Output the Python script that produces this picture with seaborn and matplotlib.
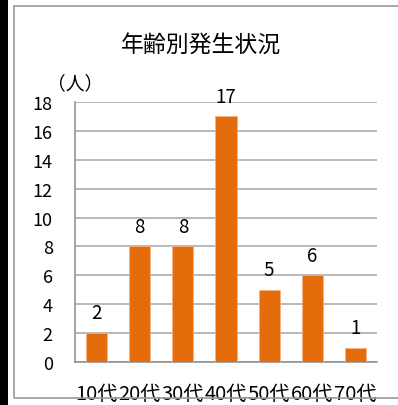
import matplotlib
matplotlib.use("Agg")
import matplotlib.pyplot as plt
from matplotlib.patches import Rectangle
import seaborn as sns
import pandas as pd

# 年代別の発生件数
age_groups = ["10代", "20代", "30代", "40代", "50代", "60代", "70代"]
counts = [2, 8, 8, 17, 5, 6, 1]
y_ticks = [0, 2, 4, 6, 8, 10, 12, 14, 16, 18]

sns.set_theme(style="white")
plt.rcParams["font.family"] = ["Noto Sans CJK JP", "DejaVu Sans"]

W, H = 398, 406
fig = plt.figure(figsize=(W / 100, H / 100), dpi=100)

# 外枠と左端の黒帯
fig.patches.append(Rectangle((0, 0), 8 / W, 1, transform=fig.transFigure,
                             facecolor="black", edgecolor="none", zorder=0))
fig.patches.append(Rectangle((14 / W, 7 / H), 1.2, (399 - 7) / H,
                             transform=fig.transFigure, facecolor="none",
                             edgecolor="#9a9a9a", linewidth=1.2, zorder=0))

ax = fig.add_axes([75 / W, (H - 363) / H, (377 - 75) / W, (363 - 103) / H])

df = pd.DataFrame({"age": age_groups, "count": counts})
sns.barplot(data=df, x="age", y="count", color="#E46C0A", saturation=1,
            width=0.49, edgecolor="#f6b183", linewidth=0.6, ax=ax, zorder=3)

ax.set_ylim(0, 18)
ax.set_xlim(-0.5, len(age_groups) - 0.5)
ax.set_yticks(y_ticks)
ax.set_yticklabels([str(v) for v in y_ticks], fontsize=13, color="black")
ax.yaxis.grid(True, color="#a6a6a6", linewidth=1.1, zorder=0)
ax.set_axisbelow(True)

# x軸の区切り目盛り
ax.set_xticks(range(len(age_groups)))
ax.set_xticklabels(age_groups, fontsize=14.5, color="black")
ax.tick_params(axis="x", length=0, pad=15)
ax.set_xticks([i - 0.5 for i in range(len(age_groups) + 1)], minor=True)
ax.tick_params(axis="x", which="minor", length=7, width=1.1, color="#8c8c8c",
               direction="out")
ax.tick_params(axis="y", length=7, width=1.1, color="#8c8c8c",
               direction="out", pad=9)

for side in ["top", "right"]:
    ax.spines[side].set_visible(False)
for side in ["left", "bottom"]:
    ax.spines[side].set_color("#8c8c8c")
    ax.spines[side].set_linewidth(1.1)

ax.set_xlabel("")
ax.set_ylabel("")

# 棒の上の件数ラベル
for i, v in enumerate(counts):
    ax.annotate(str(v), (i, v), xytext=(0, 7), textcoords="offset points",
                ha="center", va="bottom", fontsize=13.5, color="black")

fig.text(201 / W, 1 - 45 / H, "年齢別発生状況", ha="center", va="center",
         fontsize=16.5, color="black")
fig.text(75 / W, 1 - 84 / H, "（人）", ha="center", va="center",
         fontsize=13.5, color="black")

fig.savefig("out.png", dpi=100)
